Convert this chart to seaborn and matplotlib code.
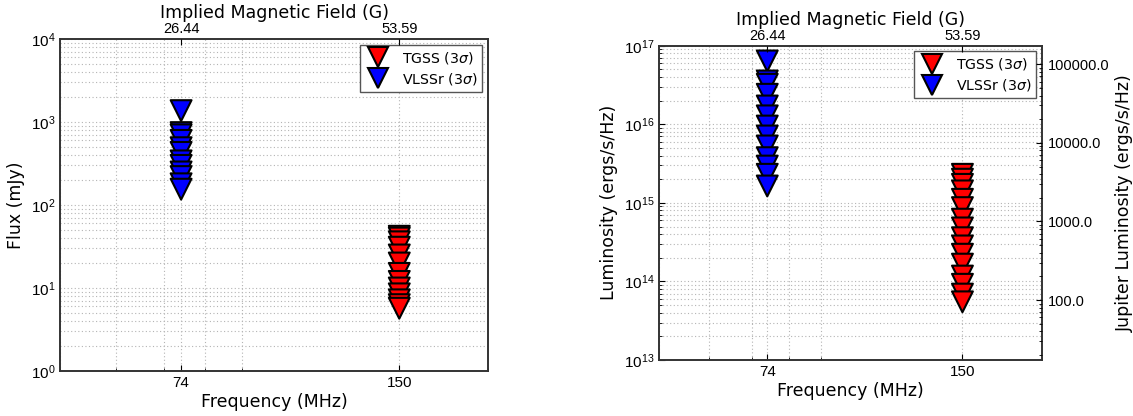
import math
import matplotlib
matplotlib.use("Agg")
import matplotlib.pyplot as plt
import pandas as pd
import seaborn as sns
from matplotlib.lines import Line2D
from matplotlib.ticker import FixedLocator, NullFormatter, FuncFormatter, LogLocator

# Survey labels, observing frequencies (MHz) and implied field strengths (G)
surveys = ["TGSS (3$\\sigma$)", "VLSSr (3$\\sigma$)"]
survey_freqs = [150, 74]
survey_colors = ["#ff0000", "#0000ff"]
field_ticks = [74, 150]
field_labels = ["26.44", "53.59"]

# 3-sigma flux upper limits (mJy)
tgss_flux = [42, 40, 36, 31, 25, 20, 15, 12, 10, 8.5, 7.2, 6.3, 5.7]
vlssr_flux = [1370, 745, 700, 600, 490, 430, 340, 300, 250, 220, 180, 155]

# 3-sigma luminosity upper limits (ergs/s/Hz)
tgss_lum = [2.31e15, 2.0e15, 1.72e15, 1.42e15, 1.11e15, 8.7e14, 6.2e14,
            4.8e14, 3.6e14, 2.83e14, 2.22e14, 1.66e14, 1.17e14, 9.2e13,
            6.9e13, 5.5e13]
vlssr_lum = [6.4e16, 3.56e16, 3.23e16, 2.41e16, 1.71e16, 1.28e16, 9.5e15,
             7.1e15, 5.3e15, 3.76e15, 2.94e15, 2.31e15, 1.64e15]

# Reference Jupiter luminosity (ergs/s/Hz) for the secondary axis
jupiter_lum = 5.8e11
jupiter_ticks = [100, 1000, 10000, 100000]

sns.set_style("white")
plt.rcParams["font.family"] = ["DejaVu Sans"]
plt.rcParams["text.color"] = "black"
plt.rcParams["axes.labelcolor"] = "black"
plt.rcParams["xtick.color"] = "black"
plt.rcParams["ytick.color"] = "black"
plt.rcParams["mathtext.fontset"] = "custom"
plt.rcParams["mathtext.rm"] = "Liberation Sans"
plt.rcParams["mathtext.it"] = "DejaVu Sans:italic"
plt.rcParams["mathtext.bf"] = "DejaVu Sans:bold"

TICK_FONT = "Liberation Sans"
SPINE = "#333333"
GRID = "#b4b4b4"
MINOR_SUBS = (2, 3, 4, 5, 6, 7, 8, 9)


def frame(table, column):
    rows = []
    for name, freq, vals in table:
        for v in vals:
            rows.append({"freq": freq, column: v, "survey": name})
    return pd.DataFrame(rows)


def pow10(v, pos):
    return r"$\mathrm{10^{%d}}$" % round(math.log10(v))


def style_axes(ax, ylim):
    ax.set_xscale("log")
    ax.set_yscale("log")
    ax.set_xlim(50, 200)
    ax.set_ylim(*ylim)
    ax.xaxis.set_major_locator(FixedLocator(field_ticks))
    ax.xaxis.set_major_formatter(FuncFormatter(lambda v, p: "%d" % v))
    ax.xaxis.set_minor_locator(LogLocator(base=10, subs=MINOR_SUBS))
    ax.xaxis.set_minor_formatter(NullFormatter())
    ax.yaxis.set_major_locator(LogLocator(base=10, numticks=20))
    ax.yaxis.set_major_formatter(FuncFormatter(pow10))
    ax.yaxis.set_minor_locator(LogLocator(base=10, subs=MINOR_SUBS, numticks=20))
    ax.yaxis.set_minor_formatter(NullFormatter())
    ax.grid(True, which="both", linestyle=(0, (1, 2.2)), color=GRID, linewidth=0.8)
    ax.tick_params(which="both", direction="in", labelsize=11,
                   top=False, right=False)
    ax.tick_params(which="major", length=4)
    ax.tick_params(which="minor", length=2)
    for lab in ax.get_xticklabels() + ax.get_yticklabels():
        lab.set_fontfamily(TICK_FONT)
    for sp in ax.spines.values():
        sp.set_color(SPINE)
        sp.set_linewidth(1.4)
    ax.set_xlabel("Frequency (MHz)", fontsize=12.5, labelpad=2)

    top = ax.twiny()
    top.set_xscale("log")
    top.set_xlim(50, 200)
    top.xaxis.set_major_locator(FixedLocator(field_ticks))
    top.xaxis.set_major_formatter(FuncFormatter(lambda v, p: field_labels[p] if p < 2 else ""))
    top.xaxis.set_minor_locator(FixedLocator([]))
    top.tick_params(which="both", direction="in", length=4, labelsize=10.5, pad=2)
    for lab in top.get_xticklabels():
        lab.set_fontfamily(TICK_FONT)
    top.set_xlabel("Implied Magnetic Field (G)", fontsize=12.5, labelpad=3)
    for sp in top.spines.values():
        sp.set_visible(False)
    return top


def draw(ax, df, column):
    sns.scatterplot(data=df, x="freq", y=column, hue="survey", hue_order=surveys,
                    palette=survey_colors, marker="v", s=225, edgecolor="black",
                    linewidth=1.5, legend=False, ax=ax, zorder=3)
    handles = [Line2D([], [], marker="v", linestyle="", markersize=15,
                      markerfacecolor=c, markeredgecolor="black", markeredgewidth=1.5)
               for c in survey_colors]
    leg = ax.legend(handles, surveys, loc="upper right", fontsize=10.2,
                    fancybox=False, framealpha=1, edgecolor="#555555",
                    borderpad=0.35, handletextpad=0.8, labelspacing=0.35,
                    handlelength=1.8, borderaxespad=0.4)
    leg.get_frame().set_linewidth(1.0)
    leg.set_zorder(5)


fig = plt.figure(figsize=(11.33, 4.16), dpi=100)
ax1 = fig.add_axes([0.0530, 0.1082, 0.3778, 0.7981])
ax2 = fig.add_axes([0.5816, 0.1346, 0.3380, 0.7555])

flux_df = frame([(surveys[0], survey_freqs[0], tgss_flux),
                 (surveys[1], survey_freqs[1], vlssr_flux)], "flux")
lum_df = frame([(surveys[0], survey_freqs[0], tgss_lum),
                (surveys[1], survey_freqs[1], vlssr_lum)], "lum")

draw(ax1, flux_df, "flux")
style_axes(ax1, (1, 1e4))
ax1.set_ylabel("Flux (mJy)", fontsize=12.5)
ax1.yaxis.set_label_coords(-0.082, 0.5)

draw(ax2, lum_df, "lum")
style_axes(ax2, (1e13, 1e17))
ax2.set_ylabel("Luminosity (ergs/s/Hz)", fontsize=12.5)
ax2.yaxis.set_label_coords(-0.107, 0.5)

jup = ax2.twinx()
jup.set_yscale("log")
jup.set_ylim(1e13 / jupiter_lum, 1e17 / jupiter_lum)
jup.yaxis.set_major_locator(FixedLocator(jupiter_ticks))
jup.yaxis.set_major_formatter(FuncFormatter(lambda v, p: "%.1f" % v))
jup.yaxis.set_minor_locator(LogLocator(base=10, subs=MINOR_SUBS, numticks=20))
jup.yaxis.set_minor_formatter(NullFormatter())
jup.tick_params(which="both", direction="in", labelsize=10.5, pad=4)
jup.tick_params(which="major", length=4)
jup.tick_params(which="minor", length=2)
for lab in jup.get_yticklabels():
    lab.set_fontfamily(TICK_FONT)
for sp in jup.spines.values():
    sp.set_visible(False)
jup.set_ylabel("Jupiter Luminosity (ergs/s/Hz)", fontsize=12.5)
jup.yaxis.set_label_coords(1.193, 0.5)

fig.savefig("out.png", dpi=100)
